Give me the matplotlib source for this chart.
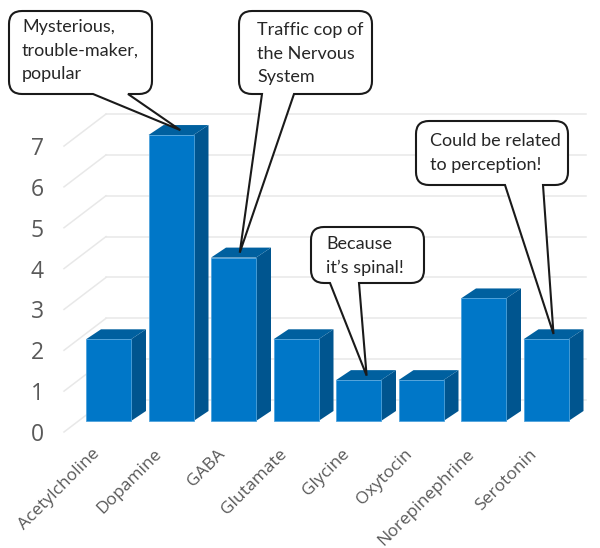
import matplotlib.pyplot as plt
from matplotlib.patches import PathPatch, Polygon
from matplotlib.path import Path
from matplotlib.transforms import Affine2D

names = ['Acetylcholine', 'Dopamine', 'GABA', 'Glutamate', 'Glycine',
         'Oxytocin', 'Norepinephrine', 'Serotonin']
counts = [2, 7, 4, 2, 1, 1, 3, 2]
yticks = [0, 1, 2, 3, 4, 5, 6, 7]

# axes fill the figure, so 1 category = 62.5 px and 1 unit = 40.85 px
X0, XU, Y0, YU = 108.5, 62.5, 421, 40.85
W, H = 600, 548
half = 22.5 / XU
dx, dy = 15 / XU, 10 / YU

fig = plt.figure(figsize=(6, 5.48), dpi=100)
ax = fig.add_axes([0, 0, 1, 1])
ax.set_xlim(-X0 / XU, (W - X0) / XU)
ax.set_ylim((Y0 - H) / YU, Y0 / YU)
ax.axis('off')

# back wall gridlines and the slanted side lines
wall_x0 = (106 - X0) / XU
wall_x1 = (586 - X0) / XU
side_x0 = (64 - X0) / XU
for v in yticks:
    back = v + 21 / YU
    front = back - 32 / YU
    ax.plot([wall_x0, wall_x1], [back, back], color='#e8e8e8', lw=1.1, zorder=1)
    ax.plot([side_x0, wall_x0], [front, back], color='#e8e8e8', lw=1.1, zorder=1)
    ax.text((37 - X0) / XU, front - 3 / YU, str(v), ha='center', va='center',
            fontsize=16.5, color='#595959', family='Open Sans')

# 3D look: front from bar(), side and top faces as polygons
for i, v in enumerate(counts):
    l, r = i - half, i + half
    ax.add_patch(Polygon([(r, 0), (r + dx, dy), (r + dx, v + dy), (r, v)],
                         fc='#00558f', ec='none', zorder=3))
    ax.add_patch(Polygon([(l, v), (r, v), (r + dx, v + dy), (l + dx, v + dy)],
                         fc='#00609f', ec='none', zorder=3))
ax.bar(range(len(counts)), counts, width=2 * half, color='#0077c8',
       edgecolor='#4fa3dc', linewidth=0.6, zorder=4)

for i, name in enumerate(names):
    ax.text(i - 17 / XU, -25 / YU, name, rotation=45, rotation_mode='anchor',
            ha='right', va='top', fontsize=12.5, color='#595959',
            family='Open Sans')

fig.canvas.draw()
px = Affine2D().scale(1, -1).translate(0, H)


def callout(box, base, value_xy, lines, text_xy):
    # rounded box with a pointed tail, box given in pixels from top left
    l, t, r, b = box
    rad = 13
    tip = px.inverted().transform(ax.transData.transform(value_xy))
    verts = [(l + rad, t), (r - rad, t), (r, t), (r, t + rad), (r, b - rad),
             (r, b), (r - rad, b), (base[1], b), tuple(tip), (base[0], b),
             (l + rad, b), (l, b), (l, b - rad), (l, t + rad), (l, t),
             (l + rad, t), (l + rad, t)]
    codes = [Path.MOVETO, Path.LINETO, Path.CURVE3, Path.CURVE3, Path.LINETO,
             Path.CURVE3, Path.CURVE3, Path.LINETO, Path.LINETO, Path.LINETO,
             Path.LINETO, Path.CURVE3, Path.CURVE3, Path.LINETO, Path.CURVE3,
             Path.CURVE3, Path.CLOSEPOLY]
    ax.add_patch(PathPatch(Path(verts, codes), transform=px, fc='white',
                           ec='#1a1a1a', lw=1.5, zorder=6, clip_on=False))
    ax.text(text_xy[0], text_xy[1], lines, transform=px, ha='left', va='top',
            fontsize=13, color='#262626', family='Lato', zorder=7,
            linespacing=1.58)


callout((9, 11, 152, 94), (93, 128), (1 + 0.15, 7 + 0.12),
        'Mysterious,\ntrouble-maker,\npopular', (22, 19))
callout((239, 11, 372, 94), (262, 294), (2 + 0.1, 4 + 0.12),
        'Traffic cop of\nthe Nervous\nSystem', (257, 22))
callout((311, 227, 424, 283), (330, 359), (4 + 0.13, 1 + 0.11),
        'Because\nit\u2019s spinal!', (326, 236))
callout((416, 121, 568, 185), (505, 543), (7 + 0.12, 2 + 0.13),
        'Could be related\nto perception!', (430, 133))

fig.savefig('out.png', dpi=100)
